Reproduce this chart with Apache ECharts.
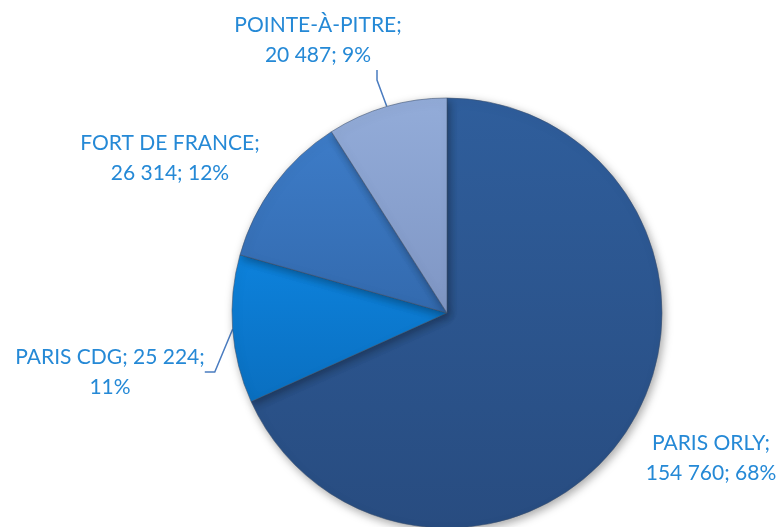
<!DOCTYPE html>
<html>
<head>
<meta charset="utf-8">
<script src="https://cdn.jsdelivr.net/npm/echarts@6/dist/echarts.min.js"></script>
<style>
  html, body { margin: 0; padding: 0; background: #fff; }
  #chart { width: 782px; height: 527px; }
</style>
</head>
<body>
<div id="chart"></div>
<script>
// airports and passengers, clockwise from 12 o'clock
var airports = ['PARIS ORLY', 'PARIS CDG', 'FORT DE FRANCE', 'POINTE-À-PITRE'];
var passengers = [154760, 25224, 26314, 20487];
var sliceTop = ['#2f5e9c', '#0d82dc', '#3d7cc8', '#93acd9'];
var sliceBottom = ['#284c80', '#0a6fc0', '#336aae', '#7f96c4'];
var labelSpots = [[711, 458], [110, 372], [170, 158], [377, 40]];
var withLine = [false, true, false, true];

function fmt(n) {
  return String(n).replace(/\B(?=(\d{3})+(?!\d))/g, ' ');
}

var data = airports.map(function (name, i) {
  var item = {
    name: name,
    value: passengers[i],
    itemStyle: {
      color: {
        type: 'linear', x: 0, y: 0, x2: 0, y2: 1,
        colorStops: [{ offset: 0, color: sliceTop[i] }, { offset: 1, color: sliceBottom[i] }]
      }
    },
    labelLine: { show: withLine[i] }
  };
  if (!withLine[i]) item.label = { position: 'inside' };
  // pad the box on the right so the leader starts under the value, like the original
  if (name === 'POINTE-À-PITRE') item.label = { padding: [0, 118, 0, 0] };
  return item;
});

var chart = echarts.init(document.getElementById('chart'));
chart.setOption({
  animation: false,
  series: [{
    type: 'pie',
    center: [447, 313],
    radius: 215,
    startAngle: 90,
    clockwise: true,
    percentPrecision: 0,
    data: data,
    itemStyle: {
      borderColor: 'rgba(60,80,110,0.55)',
      borderWidth: 1,
      shadowBlur: 10,
      shadowColor: 'rgba(0,0,0,0.35)',
      shadowOffsetX: 2,
      shadowOffsetY: 3
    },
    label: {
      color: '#2589d6',
      fontFamily: 'Lato',
      fontSize: 21,
      lineHeight: 30,
      align: 'center',
      overflow: 'none',
      formatter: function (p) {
        if (p.name === 'PARIS CDG') {
          return p.name + '; ' + fmt(p.value) + ';\n' + p.percent + '%';
        }
        return p.name + ';\n' + fmt(p.value) + '; ' + p.percent + '%';
      }
    },
    labelLine: {
      length2: 10,
      lineStyle: { color: '#4a7cc0', width: 1.5 }
    },
    labelLayout: function (p) {
      var s = labelSpots[p.dataIndex];
      return { x: s[0], y: s[1], align: 'center', verticalAlign: 'middle' };
    }
  }]
});
</script>
</body>
</html>
